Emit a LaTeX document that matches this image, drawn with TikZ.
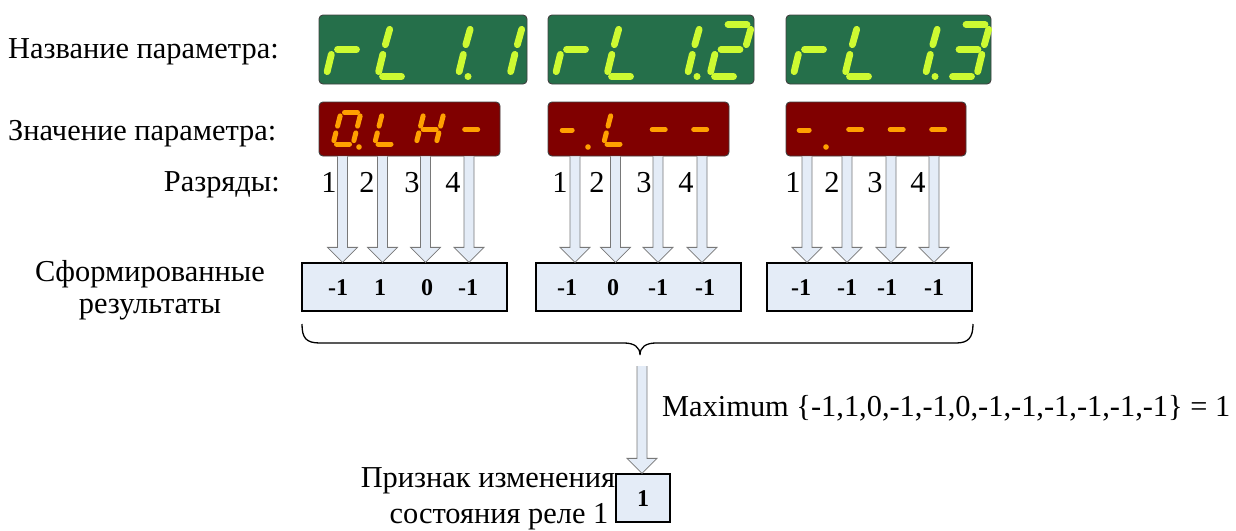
\documentclass[tikz,border=0pt]{standalone}
\usepackage{fontspec}
\setmainfont{Liberation Serif}
\definecolor{gfill}{RGB}{37,111,74}
\definecolor{gseg}{RGB}{205,250,50}
\definecolor{rfill}{RGB}{128,0,0}
\definecolor{rseg}{RGB}{255,160,0}
\definecolor{afill}{RGB}{228,236,247}
\definecolor{aline}{RGB}{120,120,120}
\definecolor{bfill}{RGB}{228,236,247}
% seven-segment helpers
\newcommand\sg[4]{%
  \draw[\segcol, line width=\tw, line cap=round, shorten <=\gp, shorten >=\gp]
    ({#1},{#2}) -- ({#3},{#4});}
\def\SEGa{\sg{\X+\Ds}{\Yt}{\X+\Ds+\Dw}{\Yt}}
\def\SEGb{\sg{\X+\Ds+\Dw}{\Yt}{\X+\Dm+\Dw}{\Ym}}
\def\SEGc{\sg{\X+\Dm+\Dw}{\Ym}{\X+\Dw}{\Yb}}
\def\SEGd{\sg{\X}{\Yb}{\X+\Dw}{\Yb}}
\def\SEGe{\sg{\X+\Dm}{\Ym}{\X}{\Yb}}
\def\SEGf{\sg{\X+\Ds}{\Yt}{\X+\Dm}{\Ym}}
\def\SEGg{\sg{\X+\Dm}{\Ym}{\X+\Dm+\Dw}{\Ym}}
\newcommand\dig[2]{\def\X{#1}\foreach \s in {#2}{\csname SEG\s\endcsname}}
\newcommand\sdot[2]{\fill[\segcol] (#1,#2) circle[radius=\dr];}
\newcommand\greenset{\def\Yt{24.5}\def\Yb{76.5}\def\Ym{49.5}\def\Dw{29}\def\Ds{13.5}\def\Dm{6.5}%
  \def\gp{5pt}\def\tw{6.8pt}\def\dr{3.5pt}\def\segcol{gseg}}
\newcommand\redset{\def\Yt{112.5}\def\Yb{144}\def\Ym{129.5}\def\Dw{20}\def\Ds{8}\def\Dm{3.7}%
  \def\gp{3.5pt}\def\tw{5pt}\def\dr{2.8pt}\def\segcol{rseg}}
% block arrow: x, from, to
\newcommand\barrow[3]{%
  \filldraw[blockarrow] let \p1=(#2), \p2=(#3) in
   ({#1pt-5pt},\y1) -- ({#1pt-5pt},{\y2+15pt}) -- ({#1pt-15pt},{\y2+15pt}) -- ({#1pt},\y2)
   -- ({#1pt+15pt},{\y2+15pt}) -- ({#1pt+5pt},{\y2+15pt}) -- ({#1pt+5pt},\y1);}
\usetikzlibrary{calc}
\tikzset{
  lab/.style={font=\fontsize{30.4}{36}\selectfont, inner sep=0pt, anchor=base},
  num/.style={font=\fontsize{24}{28}\selectfont\bfseries, inner sep=0pt, anchor=base},
  gdisp/.style={draw=black!75, line width=0.9pt, fill=gfill, rounded corners=4pt,
    minimum height=69pt, inner sep=0pt},
  rdisp/.style={draw=black!75, line width=0.9pt, fill=rfill, rounded corners=4pt,
    minimum height=54pt, inner sep=0pt},
  resbox/.style={draw=black, line width=1.3pt, fill=bfill, minimum height=48pt, inner sep=0pt},
  blockarrow/.style={fill=afill, draw=aline, line width=0.8pt, line join=miter},
  bracepath/.style={draw=black, line width=1.3pt}
}
\begin{document}
\begin{tikzpicture}[x=1pt,y=-1pt]
\useasboundingbox (0,0) rectangle (1236,530);
% left labels
\node[lab, anchor=base west] (lname) at (8,58) {Название параметра:};
\node[lab, anchor=base west] (lval) at (8,140) {Значение параметра:};
\node[lab, anchor=base east] (lbits) at (280,191) {Разряды:};
\node[lab] (lres1) at (150,281) {Сформированные};
\node[lab] (lres2) at (150,313) {результаты};
% displays
\node[gdisp, minimum width=208pt] (n1) at (423,49.5) {};
\node[gdisp, minimum width=206pt] (n2) at (651,49.5) {};
\node[gdisp, minimum width=205pt] (n3) at (888.5,49.5) {};
\node[rdisp, minimum width=181pt] (v1) at (409.5,129) {};
\node[rdisp, minimum width=181pt] (v2) at (638.5,129) {};
\node[rdisp, minimum width=180pt] (v3) at (876,129) {};
% green digits
\greenset
\dig{326}{e,g}\dig{377.5}{f,e,d}\dig{429}{b,c}\sdot{468}{76.5}\dig{480.5}{b,c}
\dig{555}{e,g}\dig{606.5}{f,e,d}\dig{658}{b,c}\sdot{697}{76.5}\dig{709.5}{a,b,g,e,d}
\dig{793}{e,g}\dig{844.5}{f,e,d}\dig{896}{b,c}\sdot{935}{76.5}\dig{947.5}{a,b,g,c,d}
% red digits
\redset
\dig{333}{a,b,c,d,e,f}\sdot{359}{147}\dig{374.5}{f,e,d}\dig{416}{b,c,e,f,g}\dig{457.5}{g}
\sg{558.7}{130}{575.7}{130}\sdot{588}{147}\dig{603.5}{f,e,d}\dig{645}{g}\dig{686.5}{g}
\sg{795.7}{130}{812.7}{130}\sdot{826}{147}\dig{841.5}{g}\dig{883}{g}\dig{924.5}{g}
% result boxes
\node[resbox, minimum width=205pt] (r1) at (404.5,287) {};
\node[resbox, minimum width=205pt] (r2) at (638.5,287) {};
\node[resbox, minimum width=205pt] (r3) at (869.5,287) {};
% arrows
\barrow{342.5}{v1.south}{r1.north}\barrow{382.5}{v1.south}{r1.north}
\barrow{425.5}{v1.south}{r1.north}\barrow{469}{v1.south}{r1.north}
\barrow{575}{v2.south}{r2.north}\barrow{615.5}{v2.south}{r2.north}
\barrow{658}{v2.south}{r2.north}\barrow{702}{v2.south}{r2.north}
\barrow{807}{v3.south}{r3.north}\barrow{847}{v3.south}{r3.north}
\barrow{891}{v3.south}{r3.north}\barrow{934}{v3.south}{r3.north}
% digit labels
\node[lab] (b11) at (329,192) {1};\node[lab] (b12) at (367,192) {2};
\node[lab] (b13) at (412,192) {3};\node[lab] (b14) at (453,192) {4};
\node[lab] (b21) at (560,192) {1};\node[lab] (b22) at (597,192) {2};
\node[lab] (b23) at (644,192) {3};\node[lab] (b24) at (686,192) {4};
\node[lab] (b31) at (793,192) {1};\node[lab] (b32) at (832,192) {2};
\node[lab] (b33) at (875,192) {3};\node[lab] (b34) at (918,192) {4};
% result numbers
\node[num] (x11) at (338,295.5) {-1};\node[num] (x12) at (380,295.5) {1};
\node[num] (x13) at (427,295.5) {0};\node[num] (x14) at (468,295.5) {-1};
\node[num] (x21) at (567,295.5) {-1};\node[num] (x22) at (613,295.5) {0};
\node[num] (x23) at (658,295.5) {-1};\node[num] (x24) at (705,295.5) {-1};
\node[num] (x31) at (801,295.5) {-1};\node[num] (x32) at (847,295.5) {-1};
\node[num] (x33) at (887,295.5) {-1};\node[num] (x34) at (934,295.5) {-1};
% brace
\draw[bracepath] (302,324) .. controls (302,338) and (306,343) .. (320,343) -- (624,343)
  .. controls (634,343) and (640,347) .. (640,355)
  .. controls (640,347) and (646,343) .. (656,343) -- (956,343)
  .. controls (968,343) and (973,338) .. (973,324);
\coordinate (bt) at (642,366);
% final
\node[resbox, minimum width=54pt] (f) at (643,498) {};
\node[num] (fv) at (643,506.5) {1};
\barrow{642}{bt}{f.north}
\node[lab, anchor=base west] (maxt) at (662,416) {Maximum \{-1,1,0,-1,-1,0,-1,-1,-1,-1,-1,-1\} = 1};
\node[lab] (sig1) at (488,487) {Признак изменения};
\node[lab] (sig2) at (499,523) {состояния реле 1};
\end{tikzpicture}
\end{document}
